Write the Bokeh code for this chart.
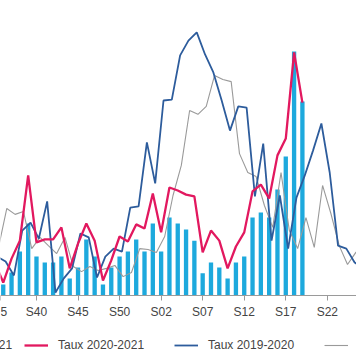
from bokeh.plotting import figure
from bokeh.models import Range1d, FixedTicker, Legend, LegendItem
from bokeh.embed import file_html
from bokeh.resources import INLINE

weeks = ["S35", "S36", "S37", "S38", "S39", "S40", "S41", "S42", "S43", "S44",
         "S45", "S46", "S47", "S48", "S49", "S50", "S51", "S52", "S53", "S01",
         "S02", "S03", "S04", "S05", "S06", "S07", "S08", "S09", "S10", "S11",
         "S12", "S13", "S14", "S15", "S16", "S17", "S18", "S19", "S20", "S21",
         "S22", "S23", "S24", "S25", "S26"]

tick_weeks = ["S35", "S40", "S45", "S50", "S02", "S07", "S12", "S17", "S22"]

# Cas 2020-2021 : S36 .. S19
cas_2020_2021 = [3.7, 7.8, 14.9, 24.4, 13.2, 11.2, 11.2, 13.2, 5.8, 9.5, 19.0, 13.2,
                 3.7, 9.5, 13.2, 14.9, 19.0, 14.9, 24.4, 14.9, 26.4, 24.4, 22.4, 18.6,
                 7.5, 11.2, 9.5, 5.8, 11.2, 13.2, 26.4, 28.1, 26.4, 35.9, 47.1, 82.7, 65.8]
cas_start = "S36"

# Taux 2020-2021 : S35 .. S19
taux_2020_2021 = [11.2, 4.4, 12.5, 18.6, 40.7, 18.0, 19.0, 19.0, 23.1, 9.2, 17.6, 24.4,
                  18.6, 5.1, 11.9, 20.0, 18.3, 24.1, 22.7, 34.6, 21.4, 36.6, 35.6, 34.2,
                  33.6, 14.6, 22.0, 18.6, 9.2, 16.6, 21.4, 35.3, 37.6, 32.9, 47.5, 53.2,
                  82.4, 65.4]

# Taux 2019-2020 : S35 .. S26
taux_2019_2020 = [13.2, 11.5, 6.8, 22.0, 24.7, 19.3, 31.9, 1.0, 5.8, 9.2, 21.0, 19.7,
                  6.1, 13.2, 15.9, 14.9, 29.8, 30.2, 51.9, 38.0, 66.1, 66.4, 81.4, 86.4,
                  89.2, 81.7, 75.6, 66.1, 55.9, 64.1, 63.7, 33.6, 51.5, 18.6, 33.9, 15.9,
                  33.2, 40.7, 49.2, 58.3, 41.7, 16.9, 15.9, 11.2, 9.2]

# Taux 2018-2019 : S35 .. S26
taux_2018_2019 = [16.3, 29.5, 27.5, 28.5, 15.9, 19.7, 16.9, 14.2, 19.7, 9.8, 8.1, 9.8,
                  8.5, 9.2, 10.2, 6.4, 7.8, 15.9, 15.6, 14.6, 20.0, 33.9, 44.1, 62.7,
                  61.4, 64.1, 74.6, 73.2, 72.5, 48.1, 41.7, 40.3, 30.5, 23.1, 41.7, 22.0,
                  15.9, 26.4, 16.3, 37.3, 27.8, 16.9, 10.5, 14.6, 16.9]

# earlier seasons are aligned by calendar date: their weeks start a few days later
day_shift_2019_2020 = 2
day_shift_2018_2019 = 3

FONT = "Liberation Sans"

def xs(start, n, shift_days=0):
    i0 = weeks.index(start)
    return [i + shift_days / 7 for i in range(i0, i0 + n)]

x_start, x_end = 0.67, 43.51
p = figure(width=356, height=364, output_backend="svg", toolbar_location=None,
           x_range=Range1d(x_start, x_end), y_range=Range1d(-23.39, 100),
           y_axis_location=None, min_border_left=0, min_border_right=0,
           min_border_top=0, min_border_bottom=0)
p.outline_line_color = None
p.xgrid.visible = False
p.ygrid.visible = False
p.background_fill_color = "white"
p.border_fill_color = "white"

bars = p.vbar(x=xs(cas_start, len(cas_2020_2021)), top=cas_2020_2021, bottom=0,
              width=0.52, fill_color="#1DA9DD", line_color=None)
gray = p.line(xs("S35", len(taux_2018_2019), day_shift_2018_2019), taux_2018_2019,
              line_color="#9a9a9a", line_width=1.1)
blue = p.line(xs("S35", len(taux_2019_2020), day_shift_2019_2020), taux_2019_2020,
              line_color="#2D5C9C", line_width=1.8)
red = p.line(xs("S35", len(taux_2020_2021)), taux_2020_2021, line_color="#E2185F",
             line_width=2.3)

# the first week label (S35) is cut by the left edge: only its last character shows
first_tick = x_start + 0.03
ticks = [first_tick] + [weeks.index(w) for w in tick_weeks[1:]]
overrides = {first_tick: tick_weeks[0][-1]}
overrides.update({weeks.index(w): w for w in tick_weeks[1:]})

ax = p.xaxis[0]
ax.fixed_location = 0
ax.ticker = FixedTicker(ticks=ticks)
ax.major_label_overrides = overrides
ax.axis_line_color = "#9a9a9a"
ax.major_tick_line_color = "#9a9a9a"
ax.major_tick_out = 5
ax.major_tick_in = 0
ax.minor_tick_line_color = None
ax.major_label_text_font = FONT
ax.major_label_text_font_size = "12px"
ax.major_label_text_color = "#444444"
ax.major_label_standoff = 5

def make_legend(items, x):
    return Legend(items=items, location=(x, 12), orientation="horizontal",
                  glyph_width=24, glyph_height=12, label_standoff=10, spacing=28,
                  label_width=88, padding=0, margin=0, border_line_color=None,
                  background_fill_alpha=0, label_text_font=FONT,
                  label_text_font_size="12px", label_text_color="#444444",
                  label_height=14)

leg1 = make_legend([LegendItem(label="Cas 2020-2021", renderers=[bars])], -104)
leg2 = make_legend([LegendItem(label="Taux 2020-2021", renderers=[red]),
                    LegendItem(label="Taux 2019-2020", renderers=[blue]),
                    LegendItem(label="Taux 2018-2019", renderers=[gray])], 24)
p.add_layout(leg1, "center")
p.add_layout(leg2, "center")

open("out.html", "w").write(file_html(p, INLINE))
